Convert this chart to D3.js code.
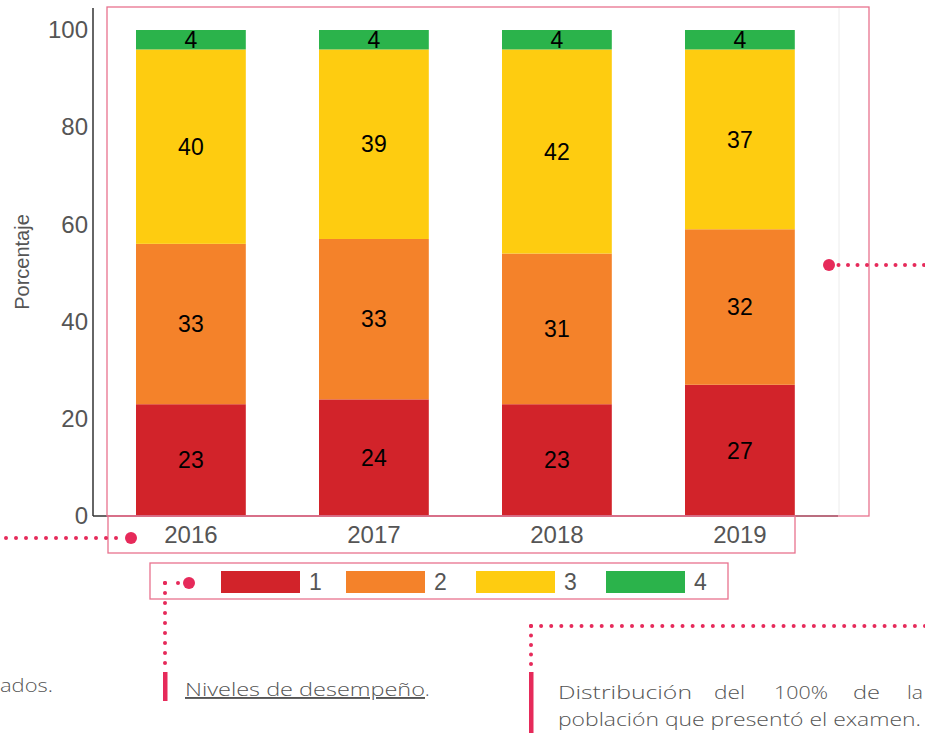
<!DOCTYPE html>
<html>
<head>
<meta charset="utf-8">
<script src="https://cdn.jsdelivr.net/npm/d3@7"></script>
<style>
  html, body { margin: 0; padding: 0; background: #fff; }
  svg { display: block; }
</style>
</head>
<body>
<svg id="chart" width="925" height="733"></svg>
<script>
// ---- data ----
const years = ["2016", "2017", "2018", "2019"];
const levels = ["1", "2", "3", "4"];
const level1 = [23, 24, 23, 27];
const level2 = [33, 33, 31, 32];
const level3 = [40, 39, 42, 37];
const level4 = [4, 4, 4, 4];
const levelColors = ["#D2232A", "#F4822A", "#FECC10", "#2BB34B"];
const yTicks = [0, 20, 40, 60, 80, 100];

const svg = d3.select("#chart");
const pink = "#E62A5A";
const frame = "#E8728E";
const gray = "#555";
const sans = "'Liberation Sans', Arial, sans-serif";

// ---- scales ----
const x = d3.scaleBand().domain(years).range([99.4, 831.4]).paddingInner(0.4).paddingOuter(0.2);
const y = d3.scaleLinear().domain([0, 100]).range([516, 30]);

const rows = years.map((yr, i) => ({ year: yr, "1": level1[i], "2": level2[i], "3": level3[i], "4": level4[i] }));
const stacked = d3.stack().keys(levels)(rows);

// light right border of plot
svg.append("line").attr("x1", 839).attr("x2", 839).attr("y1", 8).attr("y2", 516)
  .attr("stroke", "#ececec").attr("stroke-width", 1);

// ---- bars ----
const g = svg.append("g");
stacked.forEach((s, li) => {
  g.selectAll(null).data(s).join("rect")
    .attr("x", d => x(d.data.year))
    .attr("width", x.bandwidth())
    .attr("y", d => y(d[1]))
    .attr("height", d => y(d[0]) - y(d[1]))
    .attr("fill", levelColors[li]);
  g.selectAll(null).data(s).join("text")
    .attr("x", d => x(d.data.year) + x.bandwidth() / 2)
    .attr("y", d => (y(d[0]) + y(d[1])) / 2)
    .attr("dy", "0.36em")
    .attr("text-anchor", "middle")
    .attr("font-family", sans)
    .attr("font-size", 23)
    .attr("fill", "#000")
    .text(d => d[1] - d[0]);
});

// ---- axes ----
const yAxis = d3.axisLeft(y).tickValues(yTicks).tickSize(0).tickPadding(6);
const ya = svg.append("g").attr("transform", "translate(93,0)").call(yAxis);
ya.select(".domain").attr("d", "M0,8V516").attr("stroke", "#333").attr("stroke-width", 1.5);
ya.selectAll(".tick text").attr("font-family", sans)
  .attr("font-size", 24).attr("fill", gray).attr("x", -5);

const xAxis = d3.axisBottom(x).tickSize(0).tickPadding(8);
const xa = svg.append("g").attr("transform", "translate(0,516)").call(xAxis);
xa.select(".domain").attr("d", "M93,0H838").attr("stroke", "#333").attr("stroke-width", 1.5);
xa.selectAll(".tick text").attr("font-family", sans)
  .attr("font-size", 24).attr("fill", gray).attr("dy", "0.8em");

svg.append("text")
  .attr("transform", "translate(29,262) rotate(-90)")
  .attr("text-anchor", "middle")
  .attr("font-family", sans)
  .attr("font-size", 20).attr("fill", gray)
  .text("Porcentaje");

// ---- legend ----
const legendX = [221, 346, 476, 606];
const lg = svg.append("g");
levels.forEach((lv, i) => {
  const lx = legendX[i];
  lg.append("rect").attr("x", lx).attr("y", 571).attr("width", 79).attr("height", 22).attr("fill", levelColors[i]);
  lg.append("text").attr("x", lx + 88).attr("y", 582).attr("dy", "0.36em")
    .attr("font-family", sans)
    .attr("font-size", 23).attr("fill", gray).text(lv);
});

// ---- annotation frames ----
const frames = [[107, 7, 762, 509], [108, 516, 687, 37], [150, 563, 578, 36]];
frames.forEach(f => svg.append("rect").attr("x", f[0]).attr("y", f[1]).attr("width", f[2]).attr("height", f[3])
  .attr("fill", "none").attr("stroke", frame).attr("stroke-width", 1.3));

// ---- dotted pointers ----
function dots(x1, y1, x2, y2, step) {
  const n = Math.round(Math.hypot(x2 - x1, y2 - y1) / step);
  for (let k = 0; k <= n; k++) {
    svg.append("circle").attr("cx", x1 + (x2 - x1) * k / n).attr("cy", y1 + (y2 - y1) * k / n)
      .attr("r", 2).attr("fill", pink);
  }
}
function bigDot(cx, cy) { svg.append("circle").attr("cx", cx).attr("cy", cy).attr("r", 6).attr("fill", pink); }

dots(6, 538, 116, 538, 10); bigDot(131, 538);
dots(829, 265, 924, 265, 9.6); bigDot(829, 265);
bigDot(189, 583); dots(165, 583, 178, 583, 13); dots(165, 583, 165, 663, 10);
svg.append("rect").attr("x", 163).attr("y", 672).attr("width", 4.5).attr("height", 29).attr("fill", pink);
dots(531, 626, 925, 626, 10.1); dots(531, 626, 531, 664, 9.5);
svg.append("rect").attr("x", 529).attr("y", 672).attr("width", 4.5).attr("height", 61).attr("fill", pink);

// ---- annotation texts ----
const aFont = "'Open Sans', 'DejaVu Sans', sans-serif";
function ann(t, xx, yy, len) {
  return svg.append("text").attr("x", xx).attr("y", yy).attr("font-family", aFont).attr("font-size", 19)
    .attr("font-weight", 300).attr("fill", gray)
    .attr("textLength", len).attr("lengthAdjust", "spacingAndGlyphs").text(t);
}
ann("ados.", 0, 692, 53);

const nv = svg.append("text").attr("x", 185).attr("y", 696).attr("font-family", aFont).attr("font-size", 19)
  .attr("font-weight", 300).attr("fill", gray);
nv.append("tspan").attr("text-decoration", "underline").attr("textLength", 240).attr("lengthAdjust", "spacingAndGlyphs").text("Niveles de desempeño");
nv.append("tspan").text(".");

const words = [["Distribución", 558, 134], ["del", 714, 31], ["100%", 774, 54], ["de", 853, 27], ["la", 907, 16]];
words.forEach(w => ann(w[0], w[1], 699, w[2]));
ann("población que presentó el examen.", 558, 726, 363);
</script>
</body>
</html>
